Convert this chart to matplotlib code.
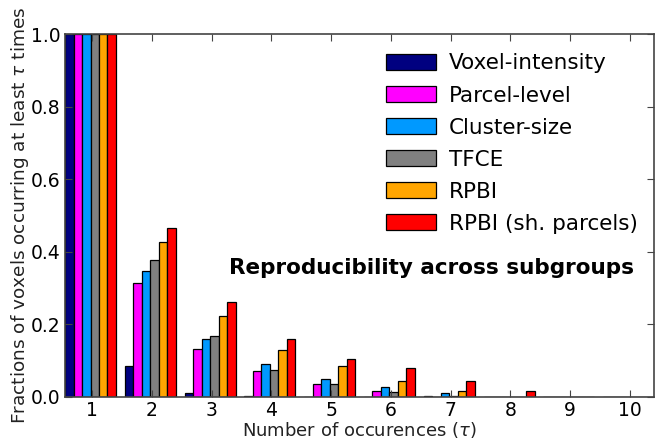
import numpy as np
import matplotlib
matplotlib.use('Agg')
import matplotlib.pyplot as plt

taus = np.arange(1, 11)
methods = ['Voxel-intensity', 'Parcel-level', 'Cluster-size', 'TFCE', 'RPBI',
           'RPBI (sh. parcels)']
colors = ['#000080', '#ff00ff', '#0099ff', '#808080', '#ffa500', '#ff0000']

voxel_intensity = [1.0, 0.085, 0.012, 0.002, 0.001, 0.001, 0.002, 0.001, 0.0, 0.0]
parcel_level = [1.0, 0.315, 0.133, 0.072, 0.036, 0.016, 0.001, 0.001, 0.0, 0.0]
cluster_size = [1.0, 0.348, 0.160, 0.091, 0.049, 0.028, 0.012, 0.001, 0.0, 0.0]
tfce = [1.0, 0.378, 0.168, 0.074, 0.037, 0.013, 0.002, 0.001, 0.0, 0.0]
rpbi = [1.0, 0.428, 0.224, 0.128, 0.084, 0.045, 0.017, 0.001, 0.0, 0.0]
rpbi_sh = [1.0, 0.465, 0.262, 0.160, 0.105, 0.080, 0.045, 0.016, 0.0, 0.0]

series = [voxel_intensity, parcel_level, cluster_size, tfce, rpbi, rpbi_sh]

fig = plt.figure(figsize=(6.67, 4.43), dpi=100)
ax = fig.add_axes([0.0975, 0.104, 0.883, 0.819])

width = 0.142
for i, (vals, lab, col) in enumerate(zip(series, methods, colors)):
    ax.bar(taus - 0.45 + i * width, vals, width, align='edge', color=col,
           edgecolor='black', linewidth=0.9, label=lab)

ax.set_xlim(0.55, 10.4)
ax.set_ylim(0, 1.0)
ax.set_xticks(taus)
ax.set_yticks([0, 0.2, 0.4, 0.6, 0.8, 1.0])
ax.set_yticklabels(['0.0', '0.2', '0.4', '0.6', '0.8', '1.0'])
ax.tick_params(direction='in', top=True, right=True, labelsize=13.5, length=5,
               color='#444444', pad=3)
for s in ax.spines.values():
    s.set_color('#444444')
    s.set_linewidth(1.2)

ax.set_ylabel(r'Fractions of voxels occurring at least $\tau$ times', fontsize=13.3,
              color='#222222', labelpad=0)
ax.set_xlabel(r'Number of occurences ($\tau$)', fontsize=13, color='#222222',
              labelpad=0)

ax.text(0.623, 0.355, 'Reproducibility across subgroups', transform=ax.transAxes,
        ha='center', va='center', fontsize=15.5, fontweight='bold')

ax.legend(loc='upper right', bbox_to_anchor=(1.005, 1.0), frameon=False,
          fontsize=15.5, handlelength=2.3, handleheight=0.75, labelspacing=0.56,
          handletextpad=0.6)

fig.savefig('out.png', dpi=100)
